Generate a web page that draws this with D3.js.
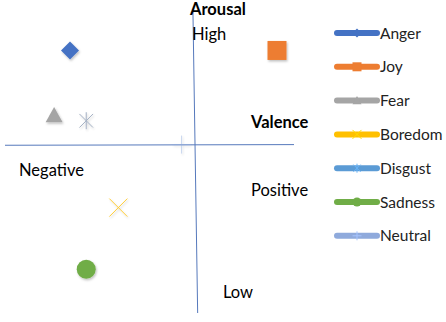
<!DOCTYPE html>
<html>
<head>
<meta charset="utf-8">
<script src="https://cdn.jsdelivr.net/npm/d3@7"></script>
<style>
  body { margin: 0; background: #fff; }
  svg { display: block; font-family: Lato, sans-serif; }
</style>
</head>
<body>
<div id="chart"></div>
<script>
// emotions placed on the valence / arousal plane
const categories = ["Anger", "Joy", "Fear", "Boredom", "Disgust", "Sadness", "Neutral"];
const valence = [-0.656, 0.44, -0.74, -0.40, -0.57, -0.57, -0.065];
const arousal = [0.71, 0.71, 0.22, -0.475, 0.18, -0.94, 0];
const colors = ["#4472C4", "#ED7D31", "#A5A5A5", "#FFC000", "#5B9BD5", "#70AD47", "#8FAADC"];
const shapes = ["diamond", "square", "triangle", "x", "asterisk", "circle", "plus"];

const width = 446, height = 322;

const svg = d3.select("#chart").append("svg")
  .attr("width", width)
  .attr("height", height);

const defs = svg.append("defs");
const shadow = defs.append("filter").attr("id", "shadow")
  .attr("x", "-50%").attr("y", "-50%").attr("width", "200%").attr("height", "200%");
shadow.append("feDropShadow")
  .attr("dx", 1).attr("dy", 1.5).attr("stdDeviation", 1.2)
  .attr("flood-color", "#000").attr("flood-opacity", 0.25);

const x = d3.scaleLinear().domain([-1, 0.53]).range([5, 294]);
const y = d3.scaleLinear().domain([-1.27, 1]).range([313, 12]);

// axes (the vertical one leans slightly in the original)
const axisColor = "#5679BC";
svg.append("line")
  .attr("x1", x(-1)).attr("y1", y(-0.005))
  .attr("x2", x(0.53)).attr("y2", y(0))
  .attr("stroke", axisColor).attr("stroke-width", 1);
svg.append("line")
  .attr("x1", x(-0.005)).attr("y1", y(1))
  .attr("x2", x(0.02)).attr("y2", y(-1.27))
  .attr("stroke", axisColor).attr("stroke-width", 1);

function markerPath(shape, s) {
  const h = s / 2;
  switch (shape) {
    case "diamond": return `M0,${-h}L${h},0L0,${h}L${-h},0Z`;
    case "square": return `M${-h},${-h}H${h}V${h}H${-h}Z`;
    case "triangle": return `M0,${-h}L${h},${h * 0.8}L${-h},${h * 0.8}Z`;
    case "circle": return d3.symbol(d3.symbolCircle, Math.PI * h * h)();
    case "x": return `M${-h},${-h}L${h},${h}M${h},${-h}L${-h},${h}`;
    case "plus": return `M${-h},0H${h}M0,${-h}V${h}`;
    case "asterisk": return `M0,${-h}V${h}M${-h * 0.8},${-h * 0.8}L${h * 0.8},${h * 0.8}M${h * 0.8},${-h * 0.8}L${-h * 0.8},${h * 0.8}`;
  }
}
const open = s => s === "x" || s === "plus" || s === "asterisk";
const sizes = { diamond: 18, square: 19, triangle: 17, circle: 19, x: 18, plus: 18, asterisk: 17 };

const points = categories.map((c, i) => ({ name: c, v: valence[i], a: arousal[i], color: colors[i], shape: shapes[i] }));

svg.append("g").selectAll("path")
  .data(points)
  .join("path")
  .attr("transform", d => `translate(${x(d.v)},${y(d.a)})`)
  .attr("d", d => markerPath(d.shape, sizes[d.shape]))
  .attr("fill", d => open(d.shape) ? "none" : d.color)
  .attr("stroke", d => open(d.shape) ? (d.shape === "asterisk" ? "#8C9CB4" : d.color) : "none")
  .attr("stroke-width", d => open(d.shape) ? 1 : 0)
  .attr("opacity", d => d.shape === "plus" ? 0.5 : (open(d.shape) ? 0.8 : 1))
  .attr("filter", "url(#shadow)");

// quadrant labels
const labels = [
  { t: "Arousal", x: 190, y: 15, bold: true },
  { t: "High", x: 192, y: 40, bold: false },
  { t: "Valence", x: 251, y: 128, bold: true },
  { t: "Negative", x: 19, y: 176, bold: false },
  { t: "Positive", x: 251, y: 196, bold: false },
  { t: "Low", x: 223, y: 298, bold: false }
];
svg.append("g").selectAll("text")
  .data(labels)
  .join("text")
  .attr("x", d => d.x).attr("y", d => d.y)
  .attr("font-size", 16.5)
  .attr("font-weight", d => d.bold ? "bold" : "normal")
  .attr("fill", "#000")
  .text(d => d.t);

// legend
const legend = svg.append("g").attr("transform", "translate(337,33)");
const item = legend.selectAll("g")
  .data(points)
  .join("g")
  .attr("transform", (d, i) => `translate(0,${i * 33.8})`);
item.append("line")
  .attr("x1", 0).attr("x2", 40)
  .attr("stroke", d => d.color)
  .attr("stroke-width", 6)
  .attr("stroke-linecap", "round");
item.append("path")
  .attr("transform", "translate(20,0)")
  .attr("d", d => markerPath(d.shape, 9))
  .attr("fill", d => open(d.shape) ? "none" : d.color)
  .attr("stroke", d => open(d.shape) ? d3.color(d.color).brighter(0.4) : "none")
  .attr("stroke-width", 1);
item.append("text")
  .attr("x", 43).attr("y", 5.5)
  .attr("font-size", 15.5)
  .attr("fill", "#222")
  .text(d => d.name);
</script>
</body>
</html>
